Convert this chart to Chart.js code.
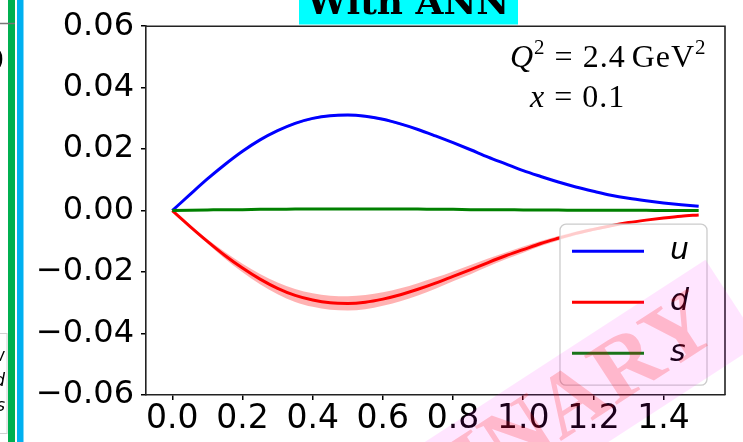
<!DOCTYPE html>
<html>
<head>
<meta charset="utf-8">
<script src="https://cdn.jsdelivr.net/npm/chart.js@4.4.1/dist/chart.umd.min.js"></script>
<style>
  html, body { margin: 0; padding: 0; background: #fff; }
  #pdfChart { display: block; }
</style>
</head>
<body>
<canvas id="pdfChart" width="743" height="442"></canvas>
<script>
// k_T profile of the quark distributions at fixed x
const xVals = [0, 0.05, 0.10, 0.15, 0.20, 0.25, 0.30, 0.35, 0.40, 0.45, 0.50,
  0.55, 0.60, 0.65, 0.70, 0.75, 0.80, 0.85, 0.90, 0.95, 1.00,
  1.05, 1.10, 1.15, 1.20, 1.25, 1.30, 1.35, 1.40, 1.45, 1.50];

const uVals = [0, 0.0052, 0.0103, 0.0150, 0.0193, 0.0230, 0.0260, 0.0284, 0.0300, 0.0309, 0.0311,
  0.0307, 0.0297, 0.0282, 0.0264, 0.0243, 0.0221, 0.0198, 0.0174, 0.0152, 0.0130,
  0.0111, 0.0093, 0.0077, 0.0063, 0.0050, 0.0040, 0.0032, 0.0025, 0.0019, 0.0014];
const uErr = [0, 0.0001, 0.0001, 0.0002, 0.0002, 0.0003, 0.0003, 0.0004, 0.0004, 0.0004, 0.0004,
  0.0004, 0.0004, 0.0004, 0.0003, 0.0003, 0.0003, 0.0003, 0.0002, 0.0002, 0.0002,
  0.0002, 0.0001, 0.0001, 0.0001, 0.0001, 0.0001, 0, 0, 0, 0];

const dVals = [0, -0.0051, -0.0100, -0.0146, -0.0187, -0.0223, -0.0253, -0.0276, -0.0291, -0.0300, -0.0302,
  -0.0298, -0.0288, -0.0274, -0.0256, -0.0236, -0.0214, -0.0192, -0.0169, -0.0147, -0.0127,
  -0.0107, -0.0090, -0.0074, -0.0061, -0.0049, -0.0039, -0.0031, -0.0024, -0.0018, -0.0014];
const dErr = [0, 0.0004, 0.0007, 0.0011, 0.0014, 0.0017, 0.0019, 0.0021, 0.0022, 0.0023, 0.0023,
  0.0023, 0.0022, 0.0021, 0.0020, 0.0018, 0.0016, 0.0015, 0.0013, 0.0011, 0.0010,
  0.0008, 0.0007, 0.0006, 0.0005, 0.0004, 0.0003, 0.0002, 0.0002, 0.0001, 0.0001];

const sVals = [0, 0.0001, 0.0002, 0.0003, 0.0003, 0.0004, 0.0004, 0.0005, 0.0005, 0.0005, 0.0005,
  0.0005, 0.0005, 0.0005, 0.0005, 0.0004, 0.0004, 0.0003, 0.0003, 0.0003, 0.0002,
  0.0002, 0.0002, 0.0001, 0.0001, 0.0001, 0.0001, 0.0001, 0, 0, 0];
const sErr = [0, 0, 0.0001, 0.0001, 0.0001, 0.0001, 0.0001, 0.0001, 0.0001, 0.0001, 0.0001,
  0.0001, 0.0001, 0.0001, 0.0001, 0.0001, 0.0001, 0.0001, 0.0001, 0.0001, 0.0001,
  0, 0, 0, 0, 0, 0, 0, 0, 0, 0];

const seriesLabels = ["u", "d", "s"];
const seriesColors = ["#0000ff", "#ff0000", "#008000"];
const bandColors = ["rgba(0,0,255,0.3)", "rgba(255,0,0,0.3)", "rgba(0,128,0,0.3)"];

const xTicks = [0, 0.2, 0.4, 0.6, 0.8, 1.0, 1.2, 1.4];
const yTicks = [-0.06, -0.04, -0.02, 0, 0.02, 0.04, 0.06];

const titleText = "With ANN";
const kinQ2 = "2.4";
const kinX = "0.1";
const stampText = "PRELIMINARY";
const sideLetters = ["w", "d", "s"];

const pts = (vals) => vals.map((y, i) => ({ x: xVals[i], y }));

function bandDatasets(vals, err, color) {
  return [
    {
      data: pts(vals.map((v, i) => v + err[i])),
      borderWidth: 0,
      pointRadius: 0,
      backgroundColor: color,
      fill: "+1",
      order: 10,
      cubicInterpolationMode: "monotone"
    },
    {
      data: pts(vals.map((v, i) => v - err[i])),
      borderWidth: 0,
      pointRadius: 0,
      fill: false,
      order: 10,
      cubicInterpolationMode: "monotone"
    }
  ];
}

function lineDataset(label, vals, color, order) {
  return {
    label,
    data: pts(vals),
    borderColor: color,
    borderWidth: 3,
    pointRadius: 0,
    fill: false,
    order,
    cubicInterpolationMode: "monotone"
  };
}

const datasets = [
  ...bandDatasets(uVals, uErr, bandColors[0]),
  ...bandDatasets(dVals, dErr, bandColors[1]),
  ...bandDatasets(sVals, sErr, bandColors[2]),
  lineDataset(seriesLabels[0], uVals, seriesColors[0], 2),
  lineDataset(seriesLabels[1], dVals, seriesColors[1], 1),
  lineDataset(seriesLabels[2], sVals, seriesColors[2], 0)
];

// neighbouring panel edges, frame, text box, legend and stamp
const decorations = {
  id: "decorations",
  beforeDraw(chart) {
    const ctx = chart.ctx;
    ctx.save();
    ctx.fillStyle = "#00b050";
    ctx.fillRect(8, 0, 7, 442);
    ctx.fillStyle = "#00b0f0";
    ctx.fillRect(17, 0, 6.5, 442);
    ctx.strokeStyle = "#777";
    ctx.lineWidth = 1.5;
    ctx.beginPath();
    ctx.moveTo(0, 23.5);
    ctx.lineTo(15, 23.5);
    ctx.stroke();
    ctx.strokeStyle = "#d0d0d0";
    ctx.lineWidth = 1;
    ctx.strokeRect(-10, 333.5, 17, 100);
    ctx.fillStyle = "#000";
    ctx.font = "italic 17px \"DejaVu Sans\"";
    ctx.textAlign = "right";
    ctx.textBaseline = "middle";
    sideLetters.forEach((t, i) => ctx.fillText(t, 5, 357 + i * 25));
    ctx.font = "26px \"DejaVu Sans\"";
    ctx.fillText("0", 4, 62);
    ctx.restore();
  },
  afterDraw(chart) {
    const ctx = chart.ctx;
    const a = chart.chartArea;
    ctx.save();

    // top and right spines
    ctx.strokeStyle = "#222";
    ctx.lineWidth = 1.6;
    ctx.beginPath();
    ctx.moveTo(a.left, a.top);
    ctx.lineTo(a.right, a.top);
    ctx.lineTo(a.right, a.bottom);
    ctx.stroke();

    // kinematics text
    ctx.fillStyle = "#000";
    ctx.textBaseline = "alphabetic";
    ctx.letterSpacing = "1px";
    const serif = "\"Liberation Serif\", serif";
    let x = a.right - 215;
    let y = a.top + 41;
    const put = (txt, font, dy = 0, gap = 0) => {
      ctx.font = font;
      ctx.fillText(txt, x, y + dy);
      x += ctx.measureText(txt).width + gap;
    };
    put("Q", "italic 32px " + serif);
    put("2", "21px " + serif, -13, 9);
    put("=", "32px " + serif, 0, 9);
    put(kinQ2, "32px " + serif, 0, 6);
    put("GeV", "32px " + serif);
    put("2", "21px " + serif, -13);
    x = a.right - 195;
    y = a.top + 81;
    put("x", "italic 32px " + serif, 0, 9);
    put("=", "32px " + serif, 0, 9);
    put(kinX, "32px " + serif);
    ctx.letterSpacing = "0px";

    // legend
    const lx = a.right - 165, ly = a.top + 198, lw = 147, lh = 161;
    ctx.beginPath();
    ctx.roundRect(lx, ly, lw, lh, 6);
    ctx.fillStyle = "rgba(255,255,255,0.8)";
    ctx.fill();
    ctx.strokeStyle = "#cccccc";
    ctx.lineWidth = 1.3;
    ctx.stroke();
    ctx.font = "italic 30px \"DejaVu Sans\"";
    ctx.textBaseline = "middle";
    seriesLabels.forEach((lab, i) => {
      const yy = ly + 27 + i * 51;
      ctx.strokeStyle = seriesColors[i];
      ctx.lineWidth = 3;
      ctx.beginPath();
      ctx.moveTo(lx + 12, yy);
      ctx.lineTo(lx + 84, yy);
      ctx.stroke();
      ctx.fillStyle = "#000";
      ctx.fillText(lab, lx + 110, yy);
    });

    // panel title, clipped by the top edge
    ctx.fillStyle = "#00ffff";
    ctx.fillRect(299, 0, 219, 24.5);
    ctx.fillStyle = "#000";
    ctx.font = "bold 36px \"DejaVu Serif\"";
    ctx.textAlign = "center";
    ctx.textBaseline = "alphabetic";
    ctx.fillText(titleText, 408, 14);

    // stamp
    ctx.translate(435, 495);
    ctx.rotate(-33 * Math.PI / 180);
    ctx.fillStyle = "rgba(255,0,255,0.1)";
    ctx.fillRect(-355, -50, 710, 100);
    ctx.font = "bold 90px \"Liberation Serif\"";
    ctx.textAlign = "center";
    ctx.textBaseline = "middle";
    ctx.fillStyle = "rgba(255,0,0,0.2)";
    ctx.fillText(stampText, 0, 0);
    ctx.restore();
  }
};

const ctx = document.getElementById("pdfChart").getContext("2d");

new Chart(ctx, {
  type: "line",
  data: { datasets },
  options: {
    responsive: false,
    animation: false,
    devicePixelRatio: 1,
    layout: { padding: { left: 0, right: 18, top: 17, bottom: 0 } },
    plugins: {
      legend: { display: false },
      tooltip: { enabled: false }
    },
    scales: {
      x: {
        type: "linear",
        min: -0.075,
        max: 1.575,
        afterBuildTicks: (scale) => { scale.ticks = xTicks.map(v => ({ value: v })); },
        afterFit: (scale) => { scale.height = 47; },
        grid: { drawOnChartArea: false, drawTicks: true, tickLength: 5, color: "#000", lineWidth: 1.5 },
        border: { display: true, color: "#222", width: 1.6 },
        ticks: {
          color: "#000",
          padding: 0,
          maxRotation: 0,
          font: { family: "DejaVu Sans", size: 33 },
          callback: (v) => Number(v).toFixed(1)
        }
      },
      y: {
        min: -0.06,
        max: 0.06,
        afterBuildTicks: (scale) => { scale.ticks = yTicks.map(v => ({ value: v })); },
        afterFit: (scale) => { scale.width = 146; },
        grid: { drawOnChartArea: false, drawTicks: true, tickLength: 5, color: "#000", lineWidth: 1.5 },
        border: { display: true, color: "#222", width: 1.6 },
        ticks: {
          color: "#000",
          padding: 7,
          font: { family: "DejaVu Sans", size: 32 },
          callback: (v) => Number(v).toFixed(2).replace("-", "\u2212")
        }
      }
    }
  },
  plugins: [decorations]
});
</script>
</body>
</html>
